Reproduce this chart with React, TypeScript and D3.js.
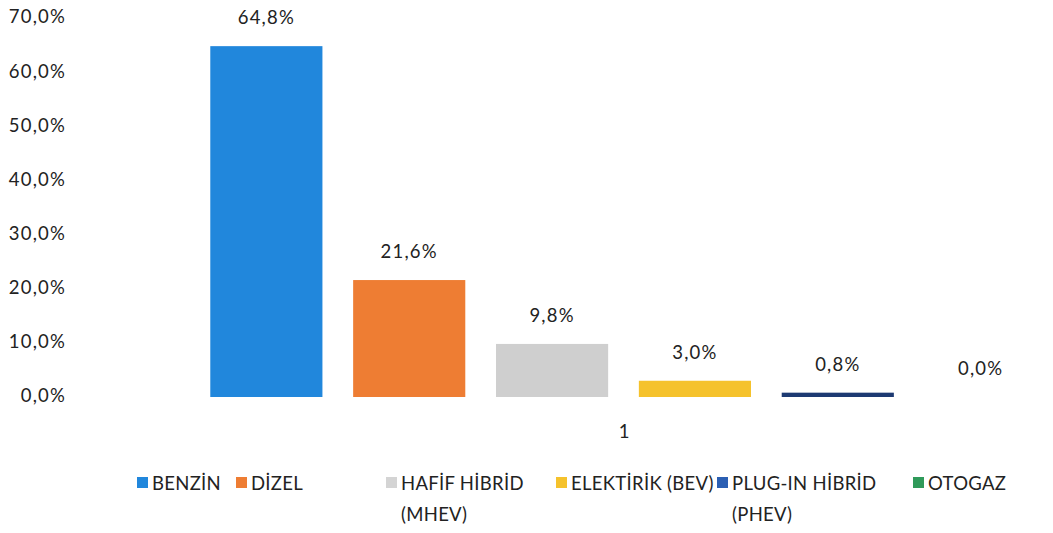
import React from "react";
import * as d3 from "d3";

const categories = ["BENZİN", "DİZEL", "HAFİF HİBRİD (MHEV)", "ELEKTİRİK (BEV)", "PLUG-IN HİBRİD (PHEV)", "OTOGAZ"];
const values = [64.8, 21.6, 9.8, 3.0, 0.8, 0.0];
const valueLabels = ["64,8%", "21,6%", "9,8%", "3,0%", "0,8%", "0,0%"];
const yTicks = [0, 10, 20, 30, 40, 50, 60, 70];
const legendLines = [["BENZİN"], ["DİZEL"], ["HAFİF HİBRİD", "(MHEV)"], ["ELEKTİRİK (BEV)"], ["PLUG-IN HİBRİD", "(PHEV)"], ["OTOGAZ"]];
const barColors = ["#2187dc", "#ee7d33", "#cfcfcf", "#f5c22c", "#1d3a72", "#2f9a5a"];
const legendColors = ["#2187dc", "#ee7d33", "#d4d4d4", "#f5c22c", "#2b5fb3", "#2f9a5a"];
const groupLabel = "1";

const W = 1053, H = 533;
const FONT = "Lato, 'Open Sans', sans-serif";
const FS = 18.5;
const LS = 0.3;
const LS_NUM = 1.2;

export default function App() {
  const x = d3.scaleBand<string>().domain(categories).range([196, 1051]).paddingInner(0.215).paddingOuter(0.1);
  const y = d3.scaleLinear().domain([0, 70]).range([396, 17]);
  const legendX = [137, 236, 386, 556, 717, 913];
  return (
    <svg width={W} height={H} style={{ position: "absolute", left: 0, top: 0, background: "#fff" }}>
      <rect width={W} height={H} fill="#fff" />
      {yTicks.map((t) => (
        <text key={t} x={66} y={y(t)} dy="0.35em" textAnchor="end" fontFamily={FONT} fontSize={FS} letterSpacing={LS_NUM} fill="#222">
          {d3.format(".1f")(t).replace(".", ",") + "%"}
        </text>
      ))}
      {categories.map((c, i) => {
        const v = values[i];
        const top = y(v);
        const h = Math.max(y(0) - top, v > 0 ? 2.5 : 0);
        return (
          <g key={c}>
            {v > 0 && <rect x={x(c)} y={y(0) - h + 1} width={x.bandwidth()} height={h} fill={barColors[i]} />}
            <text x={(x(c) as number) + x.bandwidth() / 2} y={top - 21} textAnchor="middle" fontFamily={FONT} fontSize={FS} letterSpacing={LS_NUM} fill="#222">
              {valueLabels[i]}
            </text>
          </g>
        );
      })}
      <text x={624} y={438} textAnchor="middle" fontFamily={FONT} fontSize={FS} fill="#222">{groupLabel}</text>
      {legendLines.map((lines, i) => (
        <g key={i}>
          <rect x={legendX[i]} y={477} width={11} height={11} fill={legendColors[i]} />
          {lines.map((l, j) => (
            <text key={j} x={legendX[i] + 15} y={490 + j * 31} fontFamily={FONT} fontSize={FS} letterSpacing={LS} fill="#222">{l}</text>
          ))}
        </g>
      ))}
    </svg>
  );
}
